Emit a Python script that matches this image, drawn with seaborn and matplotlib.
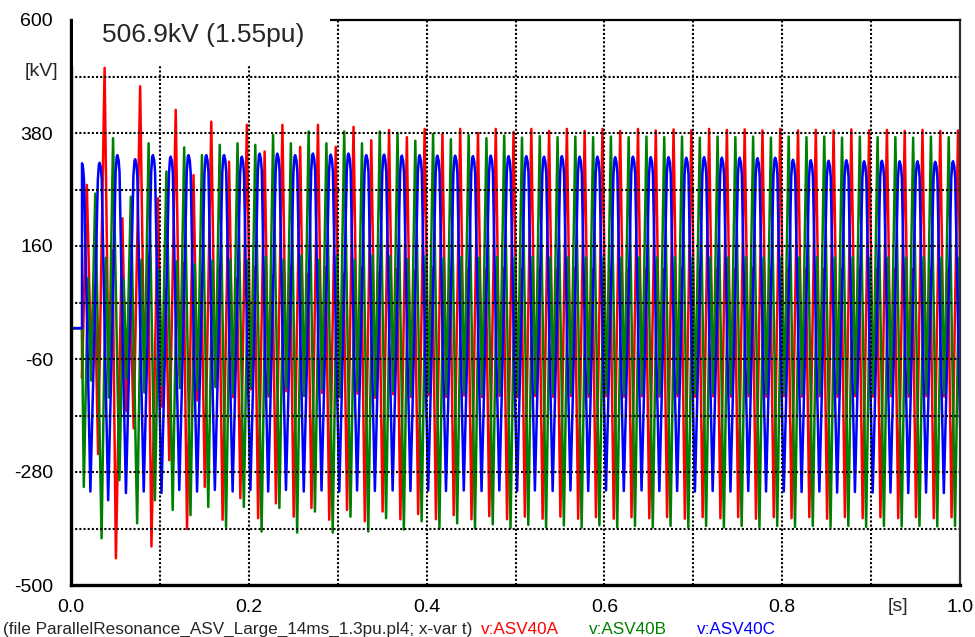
import numpy as np
import pandas as pd
import matplotlib
matplotlib.use("Agg")
import matplotlib.pyplot as plt
from matplotlib.patches import Rectangle
import seaborn as sns

# ---------------------------------------------------------------------------
# Arrester voltages after breaker closing (kV).  Each phase repeats a 20 ms
# cycle shape; crest / trough values of every cycle are listed per phase.
# ---------------------------------------------------------------------------
T_CLOSE = 0.0124          # s, closing instant
CYCLE_MS = 20.0           # 50 Hz
BASE_KV = 400.0 * np.sqrt(2.0) / np.sqrt(3.0)   # 1 pu, phase peak

SIGNALS = ["v:ASV40A", "v:ASV40B", "v:ASV40C"]

# shape of one cycle: offset from the crest (ms) and weight
# (weight > 0 scales the cycle crest, weight < 0 scales the cycle trough)
RED_CREST_MS = 17.8
RED_SHAPE_MS = [-7.3, 0.0, 4.4, 8.9]
RED_SHAPE_W = [-1.0, 1.0, -0.36, 0.30]
RED_AT_CLOSE = -97.0
RED_CRESTS = [279, 506.9, 214, 471, 253, 425, 298, 402, 324, 396,
              344, 396, 353, 396, 353, 392, 366, 386, 372, 388,
              378, 388, 380, 388, 382, 388, 384, 388, 384, 388,
              384, 388, 385, 387, 385, 388, 386, 387, 385, 388,
              385, 386, 385, 387, 385, 386, 384, 386, 384, 385, 385]
RED_TROUGHS = [-97, -245, -448, -195, -425, -257, -391, -309, -373, -331,
               -370, -341, -367, -350, -373, -354, -376, -357, -372, -362,
               -372, -364, -372, -366, -372, -367, -371, -367, -371, -368,
               -371, -368, -370, -368, -371, -368, -370, -368, -371, -368,
               -370, -368, -371, -368, -370, -368, -370, -368, -370, -368, -370]

GREEN_CREST_MS = 7.3
GREEN_SHAPE_MS = [-12.9, -8.1, -4.8, 0.0]
GREEN_SHAPE_W = [-1.0, 0.37, -0.33, 1.0]
GREEN_AT_CLOSE = 0.0
GREEN_CRESTS = [0, 262, 370, 256, 360, 305, 352, 337, 357, 360,
                357, 376, 360, 383, 360, 383, 360, 383, 380, 365,
                378, 368, 376, 370, 375, 371, 374, 372, 373, 372,
                373, 372, 373, 372, 373, 371, 373, 372, 373, 371,
                373, 372, 373, 371, 373, 372, 372, 371, 373, 372, 372]
GREEN_TROUGHS = [0, -309, -409, -296, -380, -335, -354, -364, -348, -387,
                 -348, -396, -350, -398, -357, -398, -367, -396, -370, -392,
                 -376, -390, -380, -390, -382, -389, -383, -388, -384, -388,
                 -384, -388, -385, -388, -385, -388, -385, -388, -385, -387,
                 -385, -387, -385, -387, -385, -387, -385, -386, -385, -386, -385]

BLUE_CREST_MS = 12.2
BLUE_SHAPE_MS = [-10.4, -6.0, -2.0, -0.8, 0.0, 1.4, 2.4, 6.0]
BLUE_SHAPE_W = [-1.0, -0.05, 0.90, 0.99, 1.0, 0.97, 0.90, -0.10]
BLUE_AT_CLOSE = 321.0
BLUE_CRESTS = [321, 322, 337, 329, 337, 334, 337, 337, 337, 334,
               340, 340, 337, 340, 338, 340, 337, 338, 336, 337,
               336, 336, 335, 336, 335, 335, 334, 335, 334, 334,
               333, 334, 333, 333, 332, 333, 332, 332, 331, 332,
               328, 327, 326, 327, 325, 326, 325, 325, 324, 325, 324]
BLUE_TROUGHS = [0, -318, -335, -321, -318, -321, -315, -318, -315, -318,
                -315, -318, -315, -318, -316, -318, -316, -317, -316, -317,
                -316, -317, -316, -317, -316, -317, -316, -317, -316, -317,
                -316, -317, -316, -317, -317, -318, -317, -318, -317, -318,
                -318, -319, -318, -320, -319, -320, -320, -321, -320, -321, -320]

Y_TICKS = [-500, -390, -280, -170, -60, 50, 160, 270, 380, 490, 600]
Y_TICK_LABELS = ["-500", "", "-280", "", "-60", "", "160", "", "380", "", "600"]
X_TICKS = [0.0, 0.1, 0.2, 0.3, 0.4, 0.5, 0.6, 0.7, 0.8, 0.9, 1.0]
X_TICK_LABELS = ["0.0", "", "0.2", "", "0.4", "", "0.6", "", "0.8", "", "1.0"]

CAPTION = "(file ParallelResonance_ASV_Large_14ms_1.3pu.pl4; x-var t)"


def waveform(crest_ms, shape_ms, shape_w, crests, troughs, v_close):
    """Vertex list of one phase: zero before closing, then the cycle shapes."""
    t = [0.0, T_CLOSE, T_CLOSE]
    v = [0.0, 0.0, v_close]
    for k, (crest, trough) in enumerate(zip(crests, troughs)):
        for off, w in zip(shape_ms, shape_w):
            tk = (crest_ms + CYCLE_MS * k + off) / 1000.0
            if tk > T_CLOSE:
                t.append(tk)
                v.append(w * crest if w > 0 else -w * trough)
    return t, v


phases = [
    (RED_CREST_MS, RED_SHAPE_MS, RED_SHAPE_W, RED_CRESTS, RED_TROUGHS, RED_AT_CLOSE),
    (GREEN_CREST_MS, GREEN_SHAPE_MS, GREEN_SHAPE_W, GREEN_CRESTS, GREEN_TROUGHS, GREEN_AT_CLOSE),
    (BLUE_CREST_MS, BLUE_SHAPE_MS, BLUE_SHAPE_W, BLUE_CRESTS, BLUE_TROUGHS, BLUE_AT_CLOSE),
]
frames = []
for name, args in zip(SIGNALS, phases):
    t, v = waveform(*args)
    frames.append(pd.DataFrame({"t": t, "v": v, "signal": name}))
df = pd.concat(frames, ignore_index=True)

peak_kv = max(max(RED_CRESTS), max(GREEN_CRESTS), max(BLUE_CRESTS))

# ---------------------------------------------------------------------------
sns.set_style("white")
plt.rcParams["font.family"] = ["Liberation Sans", "DejaVu Sans"]

W, H = 975, 637
fig = plt.figure(figsize=(W / 100, H / 100), dpi=100)
ax = fig.add_axes([71 / W, 52 / H, 889 / W, 565 / H])

colors = {"v:ASV40A": "#ff0000", "v:ASV40B": "#008000", "v:ASV40C": "#0000ff"}
sns.lineplot(data=df, x="t", y="v", hue="signal", hue_order=SIGNALS,
             palette=colors, estimator=None, sort=False, legend=False,
             linewidth=1.8, ax=ax, zorder=2)

ax.set_xlim(0, 1)
ax.set_ylim(-500, 600)
ax.set_xlabel("")
ax.set_ylabel("")

# dotted grid drawn over the traces
for y in Y_TICKS[1:-1]:
    ax.axhline(y, color="black", lw=1.5, ls=(0, (1, 1)), zorder=4)
for x in X_TICKS[1:-1]:
    ax.axvline(x, color="black", lw=1.5, ls=(0, (1, 1)), zorder=4)

ax.set_yticks(Y_TICKS)
ax.set_yticklabels(Y_TICK_LABELS)
ax.set_xticks(X_TICKS)
ax.set_xticklabels(X_TICK_LABELS)
ax.tick_params(axis="y", direction="out", length=8, width=1.5, labelsize=14,
               pad=5, colors="black")
ax.tick_params(axis="x", direction="out", length=5, width=1.5, labelsize=14,
               pad=5, colors="black")

for side in ("left", "bottom"):
    ax.spines[side].set_linewidth(2.4)
    ax.spines[side].set_color("black")
ax.spines["top"].set_linewidth(1.6)
ax.spines["top"].set_color("black")
ax.spines["top"].set_bounds(0.29, 1.0)
ax.spines["right"].set_linewidth(1.6)
ax.spines["right"].set_color("#333333")
for s in ax.spines.values():
    s.set_zorder(5)

# unit labels
fig.text(58 / W, 1 - 71 / H, "[kV]", ha="right", va="center", fontsize=14)
ax.text(0.93, -526, "[s]", ha="center", va="top", fontsize=14)

# peak annotation on a white panel
fig.add_artist(Rectangle((73 / W, 1 - 66 / H), (330 - 73) / W, 66 / H,
                         transform=fig.transFigure, facecolor="white",
                         edgecolor="none", zorder=5))
fig.text(102 / W, 1 - 42 / H, f"{peak_kv:.1f}kV ({peak_kv / BASE_KV:.2f}pu)",
         ha="left", va="baseline", fontsize=19, zorder=6)

# footer with file name and signal names
fig.text(3 / W, 1 - 634 / H, CAPTION, ha="left", va="baseline", fontsize=12.3)
for name, xpx in zip(SIGNALS, (481, 589, 697)):
    fig.text(xpx / W, 1 - 634 / H, name, ha="left", va="baseline",
             fontsize=12.3, color=colors[name])

fig.savefig("out.png", dpi=100)
